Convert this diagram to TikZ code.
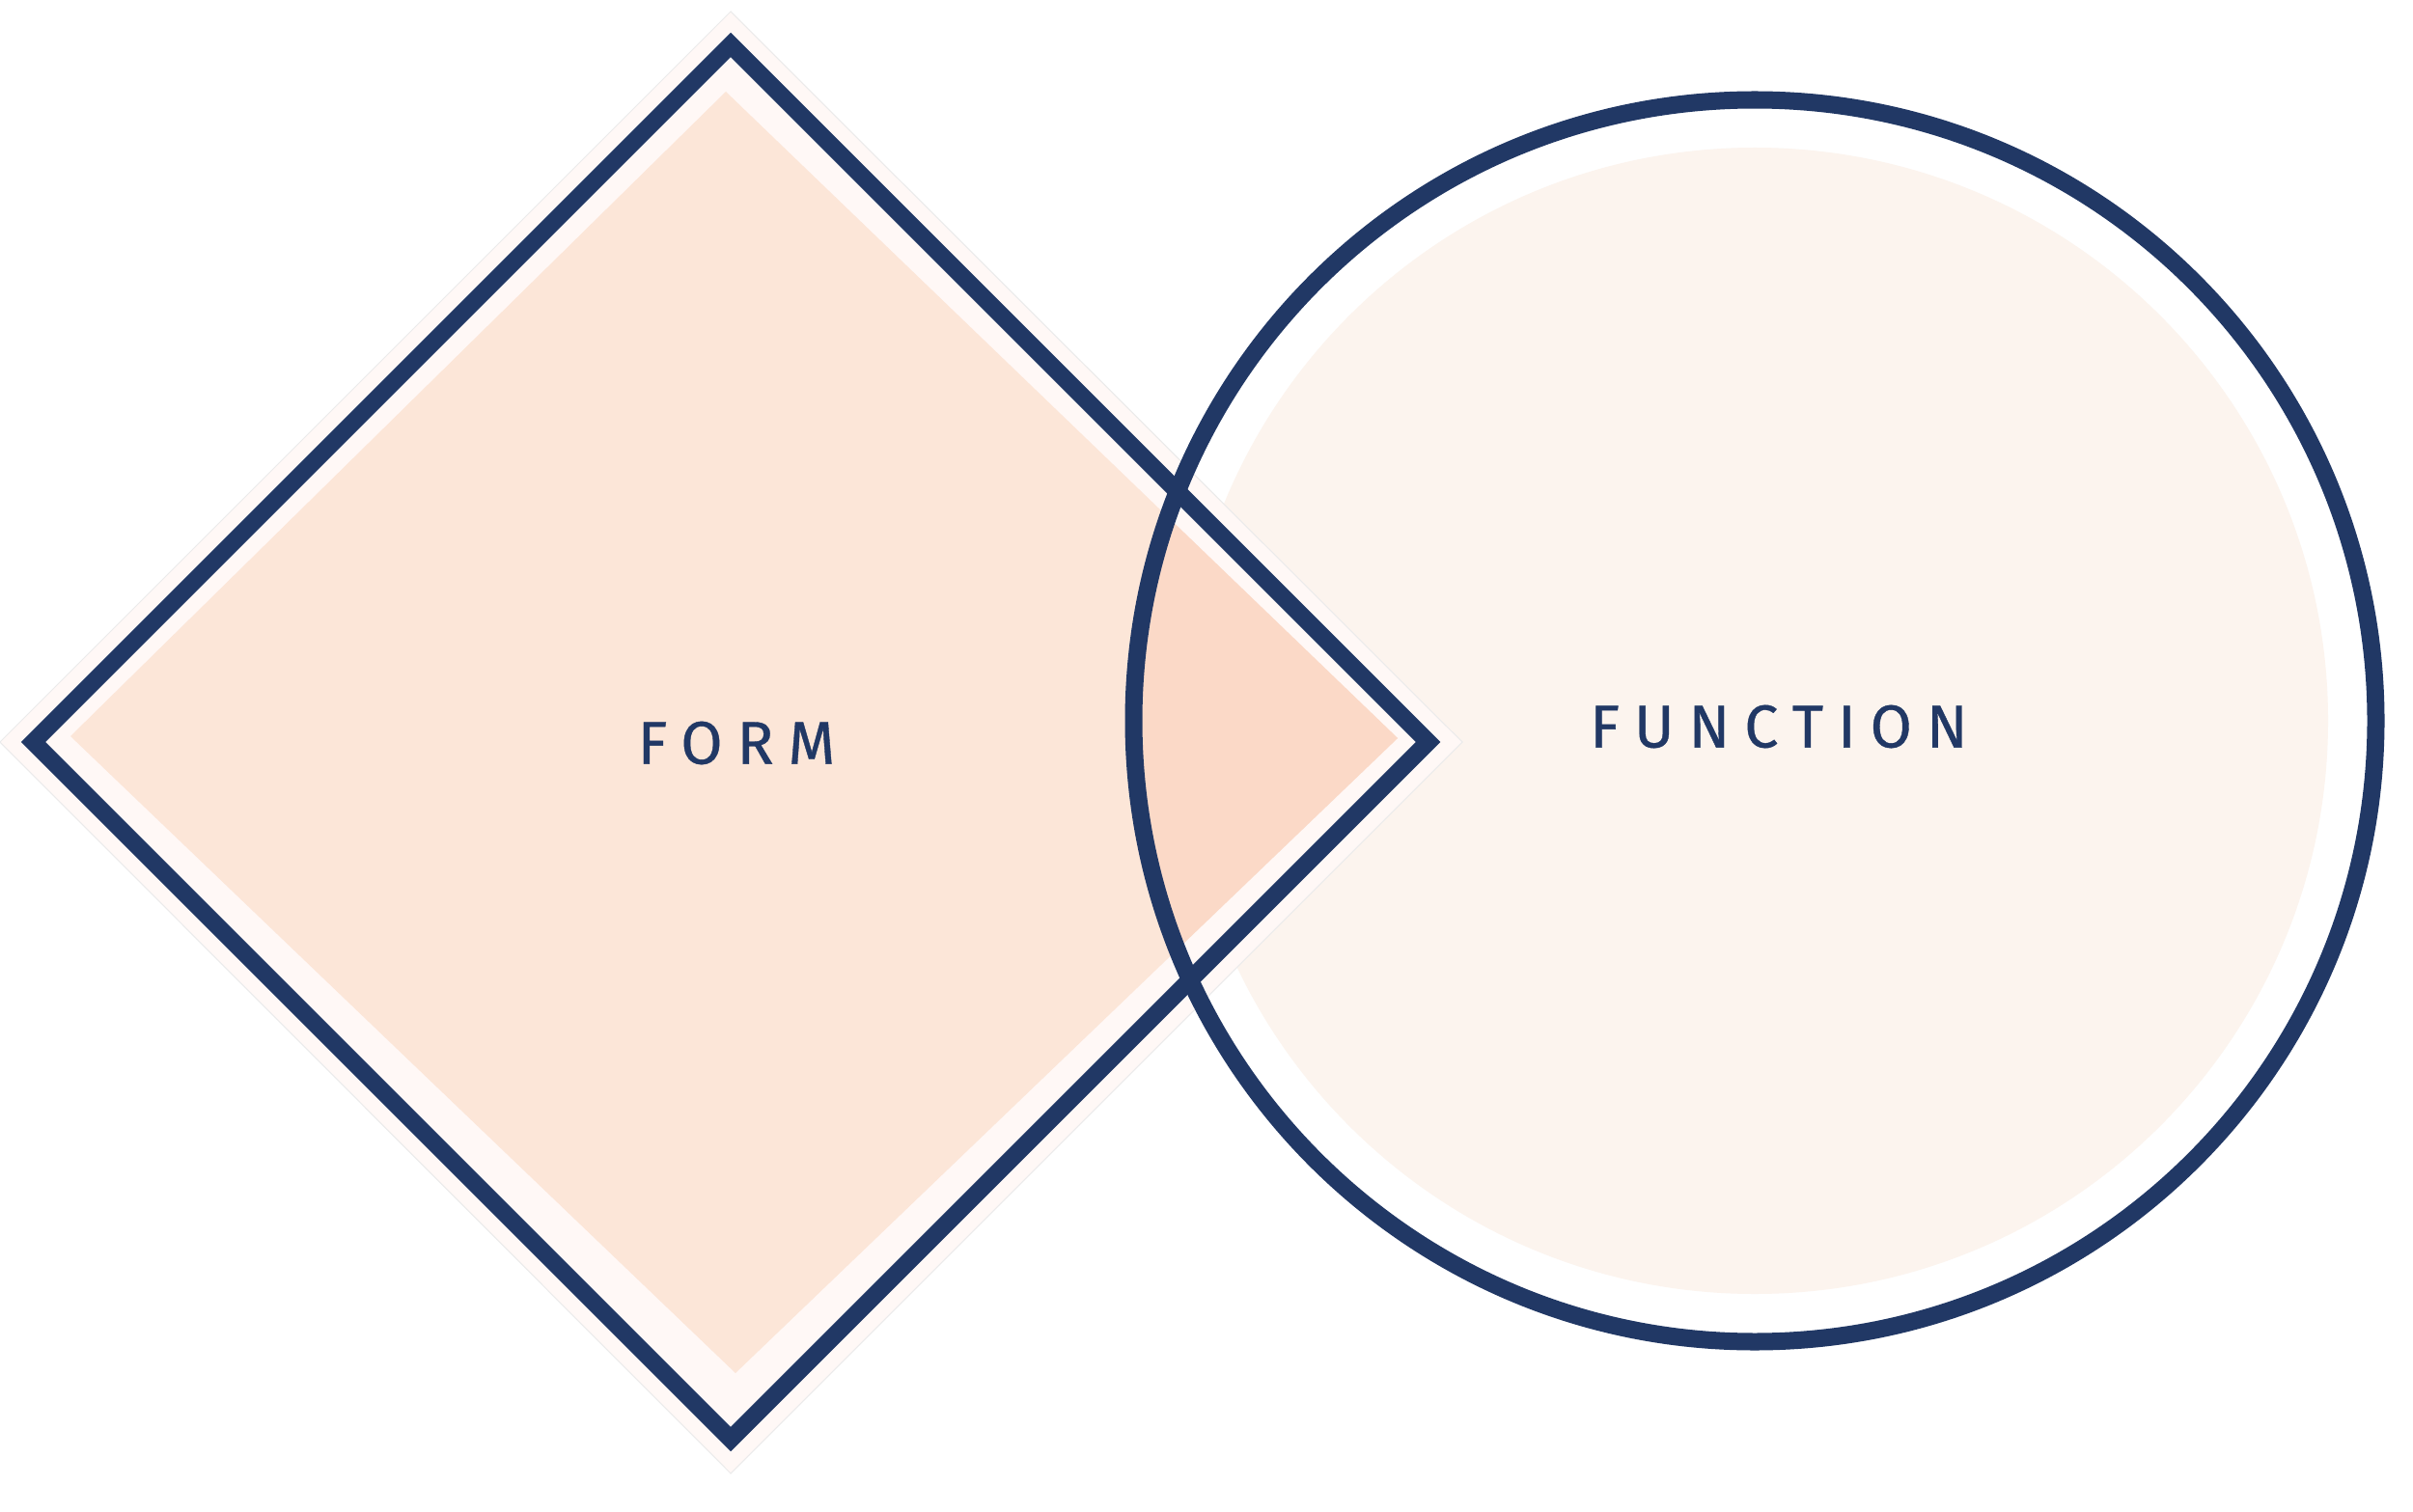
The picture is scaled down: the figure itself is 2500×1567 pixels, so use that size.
\documentclass[tikz,border=0pt]{standalone}
\usepackage{fontspec}
\setsansfont{Fira Sans}
\usepackage{tikz}
\definecolor{navyline}{HTML}{213865}
\definecolor{peachfill}{HTML}{FCE6D8}
\definecolor{lensfill}{HTML}{FBD9C7}
\definecolor{creamfill}{HTML}{FCF4EE}
\definecolor{haloband}{HTML}{FFF8F6}
\tikzset{
  outline/.style={draw=navyline, line width=0.18cm, line join=miter},
  halo/.style={fill=haloband, draw=black!8, line width=0.3pt},
  setname/.style={font=\sffamily\fontsize{17.8}{20}\selectfont\addfontfeature{LetterSpace=24,FakeBold=0.6},
    text=navyline, inner sep=0pt},
}

\begin{document}
\begin{tikzpicture}[x=0.01cm, y=-0.01cm]
    \useasboundingbox (0,0) rectangle (2500,1567);
    \fill[white] (0,0) rectangle (2500,1567);

    % function circle, inner fill
    \coordinate (fc) at (1818,747);
    \fill[creamfill] (fc) circle[radius=594];

    % form diamond, halo band and fill
    \coordinate (dc) at (757,769);
    \path[halo] (757,12) -- (1515,769) -- (757,1527) -- (0,769) -- cycle;
    \fill[peachfill] (752,95) -- (1448,765) -- (762,1423) -- (73,763) -- cycle;

    % overlap of form and function
    \begin{scope}
      \clip (fc) circle[radius=643.5];
      \fill[lensfill] (752,95) -- (1448,765) -- (762,1423) -- (73,763) -- cycle;
    \end{scope}

    % outlines
    \draw[outline] (757,46.5) -- (1479.5,769) -- (757,1491.5) -- (34.5,769) -- cycle;
    \draw[outline] (fc) circle[radius=643.5];

    \node[setname] (form) at (763,770) {FORM};
    \node[setname] (function) at (1843,753) {FUNCTION};
\end{tikzpicture}
\end{document}
